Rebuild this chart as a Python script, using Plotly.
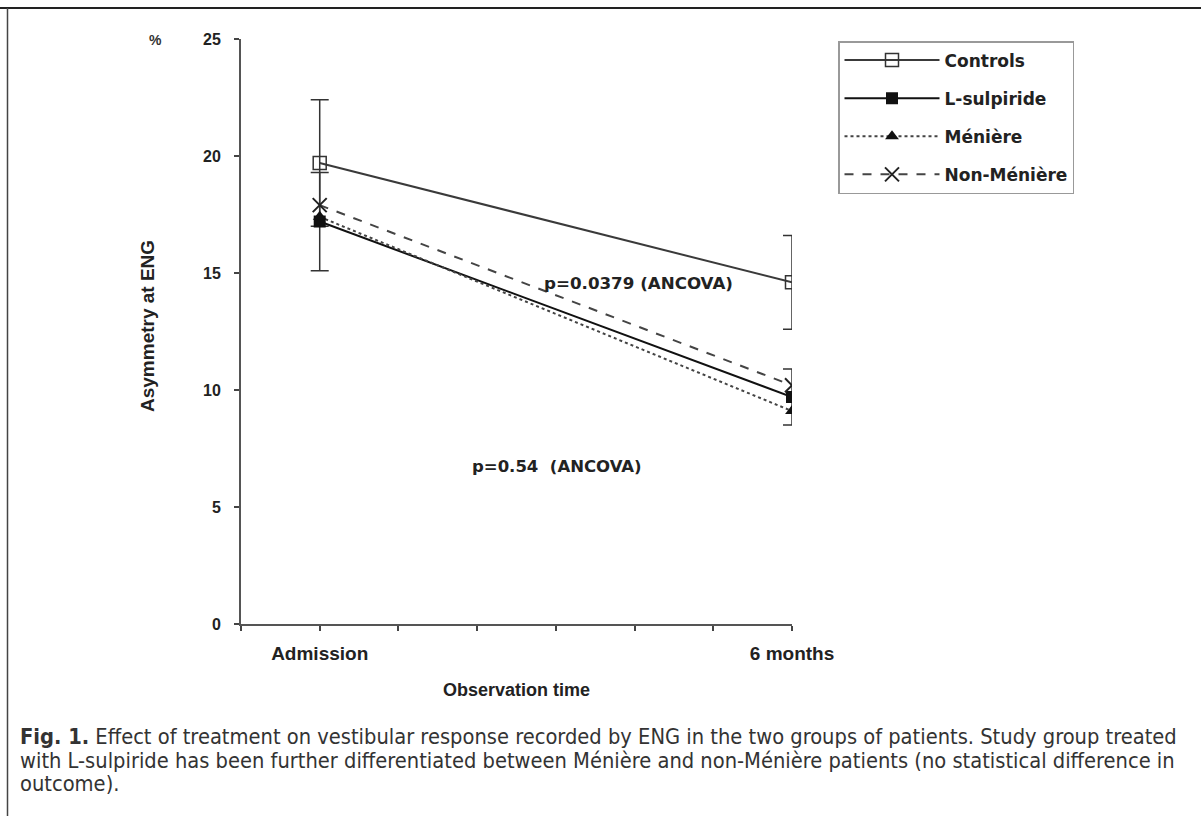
import plotly.graph_objects as go

# ---- data ----
time_labels = ["Admission", "6 months"]
controls = [19.7, 14.6]
controls_err = [2.7, 2.0]
lsulpiride = [17.2, 9.7]
lsulpiride_err = [2.1, 1.2]
meniere = [17.4, 9.1]
non_meniere = [17.9, 10.2]
y_ticks = [0, 5, 10, 15, 20, 25]

caption_lines = [
    "<b>Fig. 1.</b> Effect of treatment on vestibular response recorded by ENG in the two groups of patients. Study group treated",
    "with L-sulpiride has been further differentiated between Ménière and non-Ménière patients (no statistical difference in",
    "outcome).",
]

x_idx = list(range(len(time_labels)))  # 0, 1

# layout geometry (pixels)
L, R, T, B = 241, 1201 - 792, 39, 816 - 624
W = 1201 - L - R
H = 816 - T - B


def px_x(p):
    return (p - L) / W


def px_y(p):
    return (816 - B - p) / H


AX_FONT = "Liberation Sans, Arial, sans-serif"
WIDE_FONT = "DejaVu Sans, Verdana, sans-serif"

fig = go.Figure()

fig.add_trace(go.Scatter(
    x=x_idx, y=controls, name="Controls", mode="lines+markers",
    line=dict(color="#3a3a3a", width=2),
    marker=dict(symbol="square-open", size=13, color="#333333", line=dict(width=1.5)),
    error_y=dict(type="data", array=controls_err, visible=True, color="#333333",
                 thickness=1.5, width=9),
    legendgroup="a",
))
fig.add_trace(go.Scatter(
    x=x_idx, y=lsulpiride, name="L-sulpiride", mode="lines+markers",
    line=dict(color="#111111", width=2),
    marker=dict(symbol="square", size=12, color="#111111"),
    error_y=dict(type="data", array=lsulpiride_err, visible=True, color="#333333",
                 thickness=1.5, width=9),
    legendgroup="b",
))
fig.add_trace(go.Scatter(
    x=x_idx, y=meniere, name="Ménière", mode="lines+markers",
    line=dict(color="#444444", width=2, dash="dot"),
    marker=dict(symbol="triangle-up", size=12, color="#111111"),
    legendgroup="c",
))
fig.add_trace(go.Scatter(
    x=x_idx, y=non_meniere, name="Non-Ménière", mode="lines+markers",
    line=dict(color="#444444", width=2, dash="dash"),
    marker=dict(symbol="x-thin-open", size=14, color="#222222", line=dict(width=2, color="#222222")),
    legendgroup="d",
))

n_ticks = 8
step = 1 / 6
tickvals = [-step + i * step for i in range(n_ticks)]
ticktext = [""] * n_ticks
ticktext[1] = time_labels[0]
ticktext[-1] = time_labels[1]

fig.update_xaxes(
    range=[-step, 1], tickvals=tickvals, ticktext=ticktext,
    showgrid=False, zeroline=False, showline=True, linecolor="#555555", linewidth=2,
    ticks="outside", ticklen=5, tickwidth=1.5, tickcolor="#444444",
    ticklabelstandoff=6,
    tickfont=dict(family=AX_FONT, size=19, color="#222222", weight="bold"),
)
fig.update_yaxes(
    range=[0, 25], tickvals=y_ticks,
    showgrid=False, zeroline=False, showline=True, linecolor="#555555", linewidth=2,
    ticks="outside", ticklen=5, tickwidth=1.5, tickcolor="#444444",
    ticklabelstandoff=10,
    tickfont=dict(family=AX_FONT, size=16, color="#222222", weight="bold"),
)

annotations = [
    dict(text="<b>Asymmetry at ENG</b>", x=px_x(147), y=px_y(326), textangle=-90,
         font=dict(family=AX_FONT, size=19, color="#222222")),
    dict(text="<b>Observation time</b>", x=px_x(516), y=px_y(690),
         font=dict(family=AX_FONT, size=18, color="#222222")),
    dict(text="<b>%</b>", x=px_x(155), y=px_y(40),
         font=dict(family=AX_FONT, size=14, color="#333333")),
    dict(text="<b>p=0.0379 (ANCOVA)</b>", x=px_x(638), y=px_y(283),
         font=dict(family=WIDE_FONT, size=16.7, color="#222222")),
    dict(text="<b>p=0.54  (ANCOVA)</b>", x=px_x(557), y=px_y(466),
         font=dict(family=WIDE_FONT, size=16.5, color="#222222")),
]
cap_y = [736, 760, 783]
for line, yy in zip(caption_lines, cap_y):
    annotations.append(dict(
        text=line, x=px_x(18), y=px_y(yy), xanchor="left", yanchor="middle", align="left",
        font=dict(family="DejaVu Sans Condensed, DejaVu Sans, sans-serif", size=21.7, color="#333333"),
    ))
for a in annotations:
    a.setdefault("xref", "paper")
    a.setdefault("yref", "paper")
    a.setdefault("showarrow", False)
    a.setdefault("xanchor", "center")
    a.setdefault("yanchor", "middle")

shapes = [
    dict(type="line", xref="paper", yref="paper", x0=px_x(0), x1=px_x(1201), y0=px_y(8), y1=px_y(8),
         line=dict(color="#222222", width=2)),
    dict(type="line", xref="paper", yref="paper", x0=px_x(7.5), x1=px_x(7.5), y0=px_y(8), y1=px_y(816),
         line=dict(color="#444444", width=1.5)),
]

fig.update_layout(
    width=1201, height=816,
    margin=dict(l=L, r=R, t=T, b=B),
    paper_bgcolor="white", plot_bgcolor="white",
    showlegend=True,
    legend=dict(
        x=px_x(838), y=px_y(41), xanchor="left", yanchor="top",
        bordercolor="#999999", borderwidth=1.5, bgcolor="white",
        font=dict(family=WIDE_FONT, size=17, color="#222222", weight="bold"),
        traceorder="grouped", tracegroupgap=13, itemwidth=95,
    ),
    annotations=annotations,
    shapes=shapes,
)

fig.write_html("out.html", config={"displayModeBar": False},
               post_script="document.body.style.margin='0';")
